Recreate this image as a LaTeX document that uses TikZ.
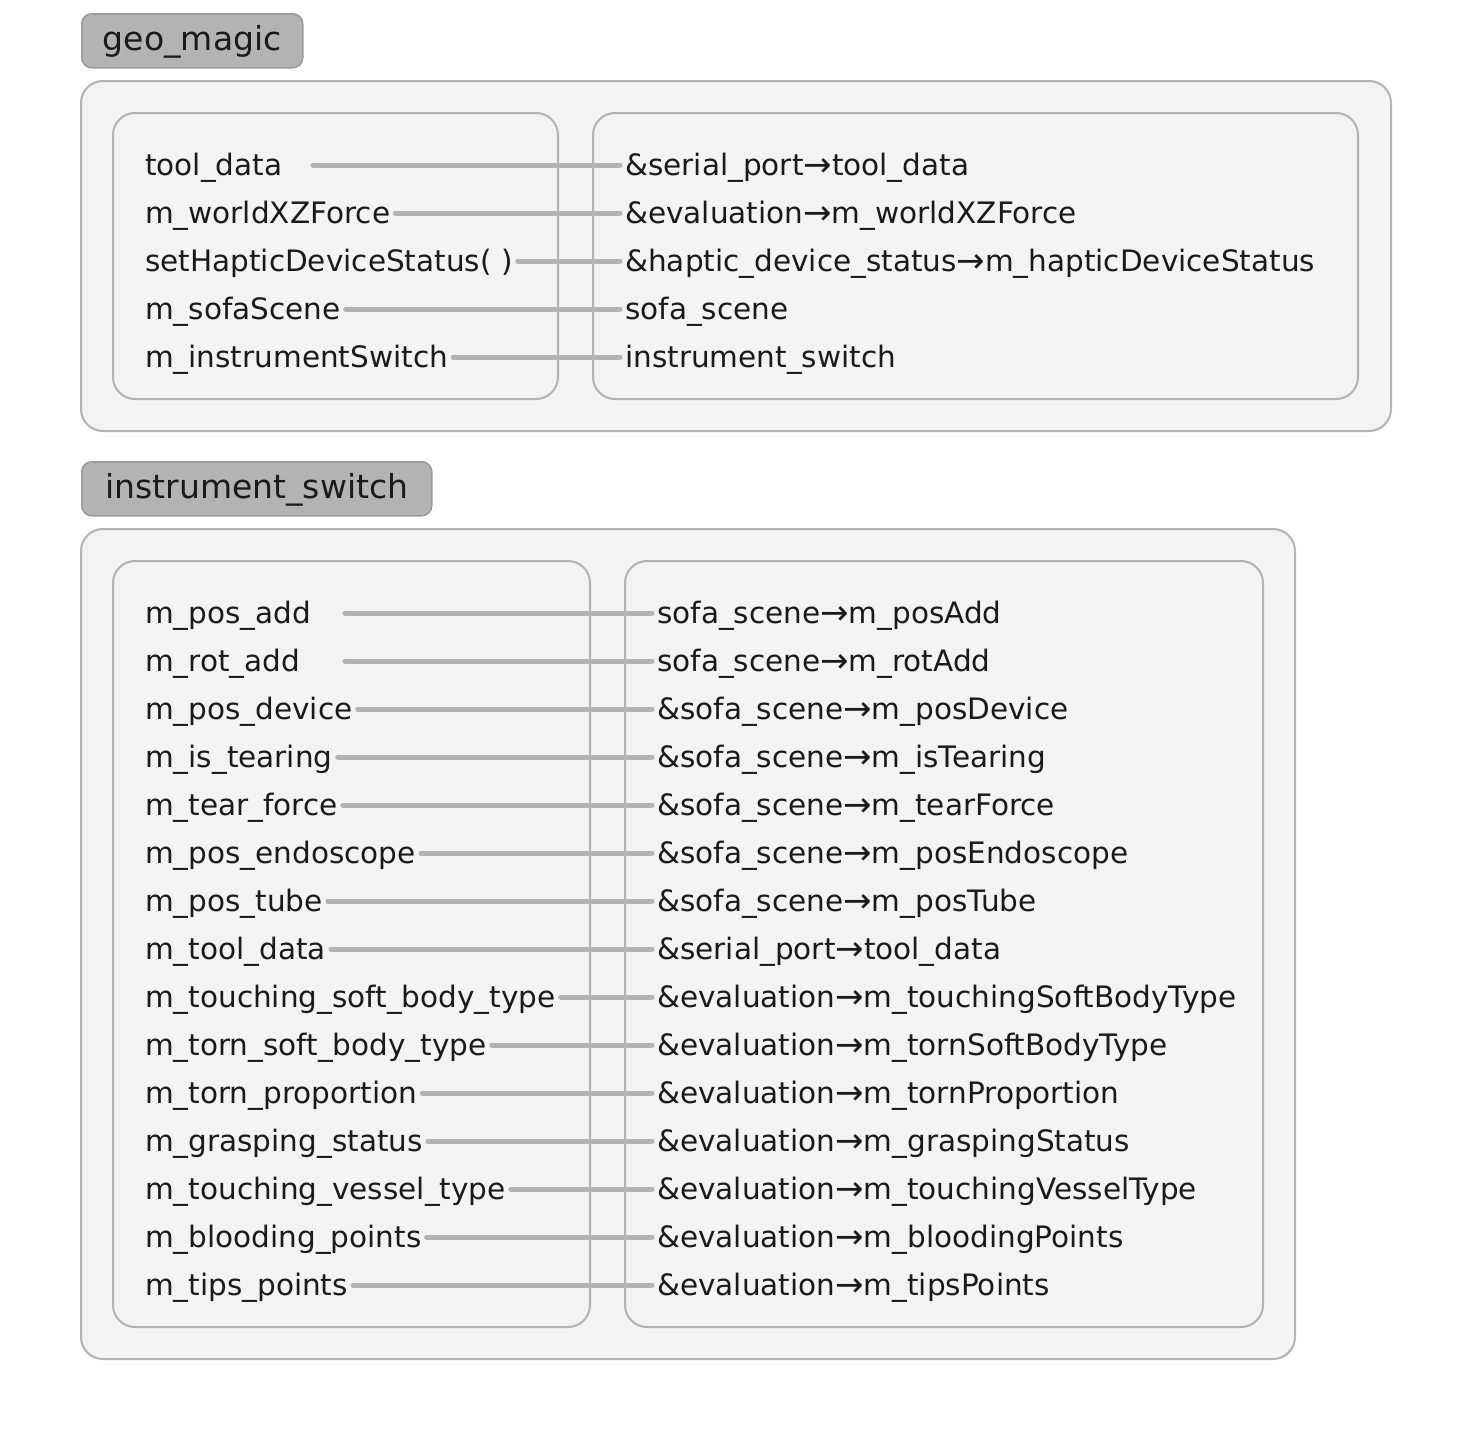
\documentclass[tikz,border=0pt]{standalone}
\usepackage{fontspec}
\setmainfont{DejaVu Sans}
\newfontfamily\arrowfont{DejaVu Sans}
\usetikzlibrary{positioning}

\definecolor{boxfill}{HTML}{F3F3F3}
\definecolor{boxline}{HTML}{B3B3B3}
\definecolor{tabfill}{HTML}{B3B3B3}
\definecolor{tabline}{HTML}{999999}
\definecolor{linkc}{HTML}{B3B3B3}
\definecolor{ink}{HTML}{1A1A1A}

\newcommand{\toarrow}{\raisebox{-1pt}{\arrowfont\fontsize{34}{35}\selectfont →}}
\newcommand{\bodyfont}{\fontsize{29.5}{35}\selectfont}
\newcommand{\tabfont}{\fontsize{33}{40}\selectfont}

\tikzset{
  tab/.style={draw=tabline, fill=tabfill, line width=1.5pt, rounded corners=10pt,
    anchor=north west, minimum height=54pt, inner sep=0pt, text height=24pt,
    text depth=5pt, text=ink, font=\tabfont},
  outer/.style={draw=boxline, fill=boxfill, line width=2pt, rounded corners=22pt},
  lbl/.style={anchor=west, inner xsep=5pt, inner ysep=0pt, text height=25pt,
    text depth=4pt, text=ink, font=\bodyfont},
  link/.style={draw=linkc, line width=5pt, line cap=round},
}

\begin{document}
\begin{tikzpicture}[x=1pt, y=-1pt]
  \useasboundingbox (0,0) rectangle (1472,1440);

  % geo_magic
  \node[tab, minimum width=221pt] (tabgeo) at (81,13) {geo\_magic};
  \draw[outer] (81,81) rectangle (1391,431);
  \draw[outer] (113,113) rectangle (558,399);
  \draw[outer] (593,113) rectangle (1358,399);

  \node[lbl, text width=162.5pt] (gl0) at (140,165) {tool\_data};
  \node[lbl] (gl1) at (140,213) {m\_worldXZForce};
  \node[lbl] (gl2) at (140,261) {setHapticDeviceStatus( )};
  \node[lbl] (gl3) at (140,309) {m\_sofaScene};
  \node[lbl] (gl4) at (140,357) {m\_instrumentSwitch};

  \node[lbl] (gr0) at (620,165) {\&serial\_port\toarrow tool\_data};
  \node[lbl] (gr1) at (620,213) {\&evaluation\toarrow m\_worldXZForce};
  \node[lbl] (gr2) at (620,261) {\&haptic\_device\_status\toarrow m\_hapticDeviceStatus};
  \node[lbl] (gr3) at (620,309) {sofa\_scene};
  \node[lbl] (gr4) at (620,357) {instrument\_switch};

  \draw[link] (gl0.east) -- (gr0.west);
  \draw[link] (gl1.east) -- (gr1.west);
  \draw[link] (gl2.east) -- (gr2.west);
  \draw[link] (gl3.east) -- (gr3.west);
  \draw[link] (gl4.east) -- (gr4.west);

  % instrument_switch
  \node[tab, minimum width=350pt] (tabsw) at (81,461) {instrument\_switch};
  \draw[outer] (81,529) rectangle (1295,1359);
  \draw[outer] (113,561) rectangle (590,1327);
  \draw[outer] (625,561) rectangle (1263,1327);

  \node[lbl, text width=194.5pt] (sl0) at (140,613) {m\_pos\_add};
  \node[lbl, text width=194.5pt] (sl1) at (140,661) {m\_rot\_add};
  \node[lbl] (sl2) at (140,709) {m\_pos\_device};
  \node[lbl] (sl3) at (140,757) {m\_is\_tearing};
  \node[lbl] (sl4) at (140,805) {m\_tear\_force};
  \node[lbl] (sl5) at (140,853) {m\_pos\_endoscope};
  \node[lbl] (sl6) at (140,901) {m\_pos\_tube};
  \node[lbl] (sl7) at (140,949) {m\_tool\_data};
  \node[lbl] (sl8) at (140,997) {m\_touching\_soft\_body\_type};
  \node[lbl] (sl9) at (140,1045) {m\_torn\_soft\_body\_type};
  \node[lbl] (sl10) at (140,1093) {m\_torn\_proportion};
  \node[lbl] (sl11) at (140,1141) {m\_grasping\_status};
  \node[lbl] (sl12) at (140,1189) {m\_touching\_vessel\_type};
  \node[lbl] (sl13) at (140,1237) {m\_blooding\_points};
  \node[lbl] (sl14) at (140,1285) {m\_tips\_points};

  \node[lbl] (sr0) at (652,613) {sofa\_scene\toarrow m\_posAdd};
  \node[lbl] (sr1) at (652,661) {sofa\_scene\toarrow m\_rotAdd};
  \node[lbl] (sr2) at (652,709) {\&sofa\_scene\toarrow m\_posDevice};
  \node[lbl] (sr3) at (652,757) {\&sofa\_scene\toarrow m\_isTearing};
  \node[lbl] (sr4) at (652,805) {\&sofa\_scene\toarrow m\_tearForce};
  \node[lbl] (sr5) at (652,853) {\&sofa\_scene\toarrow m\_posEndoscope};
  \node[lbl] (sr6) at (652,901) {\&sofa\_scene\toarrow m\_posTube};
  \node[lbl] (sr7) at (652,949) {\&serial\_port\toarrow tool\_data};
  \node[lbl] (sr8) at (652,997) {\&evaluation\toarrow m\_touchingSoftBodyType};
  \node[lbl] (sr9) at (652,1045) {\&evaluation\toarrow m\_tornSoftBodyType};
  \node[lbl] (sr10) at (652,1093) {\&evaluation\toarrow m\_tornProportion};
  \node[lbl] (sr11) at (652,1141) {\&evaluation\toarrow m\_graspingStatus};
  \node[lbl] (sr12) at (652,1189) {\&evaluation\toarrow m\_touchingVesselType};
  \node[lbl] (sr13) at (652,1237) {\&evaluation\toarrow m\_bloodingPoints};
  \node[lbl] (sr14) at (652,1285) {\&evaluation\toarrow m\_tipsPoints};

  \draw[link] (sl0.east) -- (sr0.west);
  \draw[link] (sl1.east) -- (sr1.west);
  \draw[link] (sl2.east) -- (sr2.west);
  \draw[link] (sl3.east) -- (sr3.west);
  \draw[link] (sl4.east) -- (sr4.west);
  \draw[link] (sl5.east) -- (sr5.west);
  \draw[link] (sl6.east) -- (sr6.west);
  \draw[link] (sl7.east) -- (sr7.west);
  \draw[link] (sl8.east) -- (sr8.west);
  \draw[link] (sl9.east) -- (sr9.west);
  \draw[link] (sl10.east) -- (sr10.west);
  \draw[link] (sl11.east) -- (sr11.west);
  \draw[link] (sl12.east) -- (sr12.west);
  \draw[link] (sl13.east) -- (sr13.west);
  \draw[link] (sl14.east) -- (sr14.west);
\end{tikzpicture}
\end{document}
